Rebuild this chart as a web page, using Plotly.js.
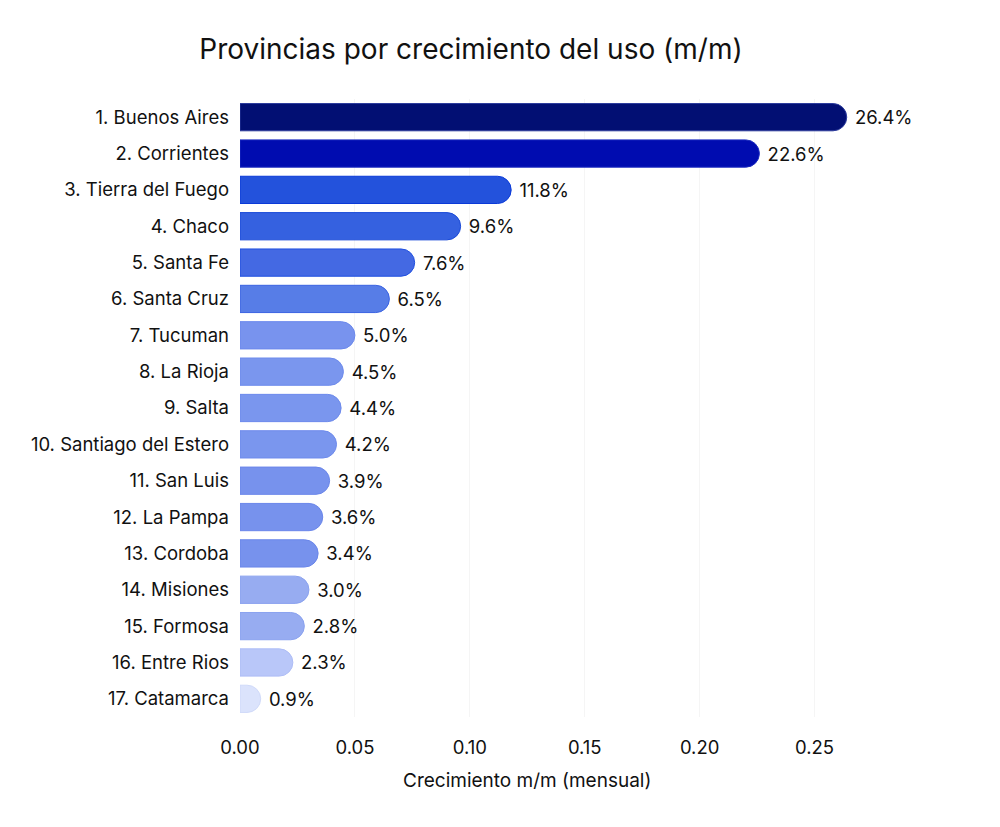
<!DOCTYPE html>
<html>
<head>
<meta charset="utf-8">
<script src="https://cdn.plot.ly/plotly-3.0.1.min.js"></script>
<style>
  body { margin: 0; background: #fff; }
  #chart { width: 1000px; height: 827px; }
</style>
</head>
<body>
<div id="chart"></div>
<script>
const provincias = [
    '1. Buenos Aires', '2. Corrientes', '3. Tierra del Fuego', '4. Chaco',
    '5. Santa Fe', '6. Santa Cruz', '7. Tucuman', '8. La Rioja', '9. Salta',
    '10. Santiago del Estero', '11. San Luis', '12. La Pampa', '13. Cordoba',
    '14. Misiones', '15. Formosa', '16. Entre Rios', '17. Catamarca'
];
const crecimiento = [
    0.264, 0.226, 0.118, 0.096, 0.076, 0.065, 0.050, 0.045, 0.044,
    0.042, 0.039, 0.036, 0.034, 0.030, 0.028, 0.023, 0.009
];
const etiquetas = [
    '26.4%', '22.6%', '11.8%', '9.6%', '7.6%', '6.5%', '5.0%', '4.5%', '4.4%',
    '4.2%', '3.9%', '3.6%', '3.4%', '3.0%', '2.8%', '2.3%', '0.9%'
];
const colores = [
    '#020f73', '#000cb0', '#2352dc', '#3561e0', '#4469e3', '#577de7', '#7893ee',
    '#7a96ee', '#7a96ee', '#7a96ee', '#7792ed', '#7792ed', '#7792ed',
    '#97acf1', '#97acf1', '#b9c7f9', '#dbe3fc'
];
const bordes = [
    '#2b3a9c', '#1a2ac0', '#0a3ad8', '#1a4ad8', '#1f4fe0', '#3a63e2', '#6a88ec',
    '#6d8aec', '#6d8aec', '#6d8aec', '#6a86ea', '#6a86ea', '#6a86ea',
    '#8aa2ef', '#8aa2ef', '#aebdf6', '#d0daf9'
];

const fuente = 'Inter, "Noto Sans", Roboto, sans-serif';

const trace = {
    type: 'bar',
    orientation: 'h',
    y: provincias,
    x: crecimiento,
    text: etiquetas,
    textposition: 'outside',
    texttemplate: ' %{text}',
    cliponaxis: false,
    textfont: { family: fuente, size: 18.5, color: '#111' },
    marker: {
        color: colores,
        line: { color: bordes, width: 1 },
        cornerradius: '50%'
    },
    hoverinfo: 'skip'
};

const layout = {
    width: 1000,
    height: 827,
    margin: { l: 240, r: 105, t: 99, b: 110 },
    paper_bgcolor: '#ffffff',
    plot_bgcolor: '#ffffff',
    font: { family: fuente, size: 18.5, color: '#111' },
    bargap: 0.25,
    showlegend: false,
    title: {
        text: 'Provincias por crecimiento del uso (m/m)',
        font: { family: fuente, size: 28, color: '#111' },
        x: 0.471,
        xanchor: 'center',
        xref: 'container',
        y: 0.94,
        yanchor: 'middle',
        yref: 'container'
    },
    xaxis: {
        range: [0, 0.285],
        tickvals: [0, 0.05, 0.1, 0.15, 0.2, 0.25],
        ticktext: ['0.00', '0.05', '0.10', '0.15', '0.20', '0.25'],
        showgrid: true,
        gridcolor: '#f5f5f5',
        gridwidth: 1,
        zeroline: false,
        showline: false,
        ticks: '',
        ticklabelstandoff: 17,
        tickfont: { family: fuente, size: 18.5, color: '#111' }
    },
    yaxis: {
        autorange: 'reversed',
        showgrid: false,
        zeroline: false,
        showline: false,
        ticks: '',
        ticklabelstandoff: 10,
        tickfont: { family: fuente, size: 18.5, color: '#111' }
    },
    annotations: [{
        text: 'Crecimiento m/m (mensual)',
        xref: 'paper', yref: 'paper',
        x: (527 - 240) / 655, y: -0.103,
        xanchor: 'center', yanchor: 'middle',
        showarrow: false,
        font: { family: fuente, size: 19, color: '#111' }
    }]
};

Plotly.newPlot('chart', [trace], layout, { displayModeBar: false, staticPlot: true });
</script>
</body>
</html>
